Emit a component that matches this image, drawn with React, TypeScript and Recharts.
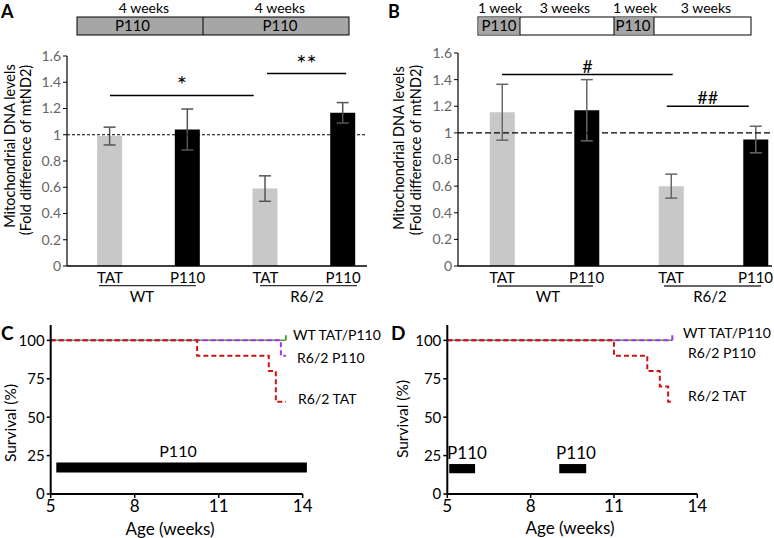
import React from 'react';
import { ComposedChart, Bar, Cell, ErrorBar, XAxis, YAxis, ReferenceLine, ReferenceArea, Line } from 'recharts';

const FONT = 'Lato, "Open Sans", sans-serif';

// ---- Panels A & B: mitochondrial DNA levels ----
const barCategories = ['TAT', 'P110', 'TAT', 'P110'];
const barGroups = ['WT', 'R6/2'];
const barColors = ['#c8c8c8', '#000000', '#c8c8c8', '#000000'];
const mtA = [0.99, 1.04, 0.59, 1.167];
const mtAErr = [0.068, 0.156, 0.097, 0.078];
const mtB = [1.155, 1.17, 0.6, 0.95];
const mtBErr = [0.21, 0.23, 0.09, 0.1];
const mtTicks = [0, 0.2, 0.4, 0.6, 0.8, 1, 1.2, 1.4, 1.6];
const sigA = [
  { from: 0, to: 1.85, y: 1.3, label: '*' },
  { from: 2.02, to: 3.04, y: 1.466, label: '**' },
];
const sigB = [
  { from: 0, to: 2.02, y: 1.438, label: '#' },
  { from: 1.95, to: 2.92, y: 1.2, label: '##' },
];

// ---- Panels C & D: survival ----
const weekTicks = [5, 8, 11, 14];
const survivalTicks = [0, 25, 50, 75, 100];

const cWtWeeks = [5, 13.4];
const cWtSurv = [100, 100];
const cR62P110Weeks = [5, 13.22, 13.4];
const cR62P110Surv = [100, 90, 90];
const cR62TatWeeks = [5, 10.23, 12.79, 13.04, 13.4];
const cR62TatSurv = [100, 90, 80, 60, 60];

const dWtWeeks = [5, 13.1];
const dWtSurv = [100, 100];
const dR62P110Weeks = [5, 13.1];
const dR62P110Surv = [100, 100];
const dR62TatWeeks = [5, 11.0, 12.2, 12.65, 12.95, 13.1];
const dR62TatSurv = [100, 90, 80, 70, 60, 60];

const cTreatment = [{ start: 5.2, end: 14.15 }];
const dTreatment = [{ start: 5.07, end: 6.0 }, { start: 9.03, end: 10.0 }];

const toPoints = (w: number[], s: number[]) => w.map((x, i) => ({ w: x, s: s[i] }));

type Sig = { from: number; to: number; y: number; label: string };

function MtPanel(props: {
  left: number; width: number; values: number[]; errs: number[];
  domainX: [number, number]; margin: any; dash: string; sig: Sig[]; errColor: string; sigSize: number;
}) {
  const { left, width, values, errs, domainX, margin, dash, sig, errColor, sigSize } = props;
  const data = values.map((v, i) => ({ pos: i, v, err: errs[i] }));
  return (
    <div style={{ position: 'absolute', left, top: 0 }}>
      <ComposedChart width={width} height={300} data={data} margin={margin}>
        <XAxis
          type="number" dataKey="pos" domain={domainX} ticks={[0, 1, 2, 3]} allowDataOverflow
          tickFormatter={(v: number) => barCategories[v]} interval={0}
          tickLine={false} tickSize={4} tickMargin={2} height={24}
          axisLine={{ stroke: '#000', strokeWidth: 1.5 }}
          tick={{ fill: '#000', fontSize: 15, fontFamily: FONT }}
        />
        <YAxis
          type="number" domain={[0, 1.6]} ticks={mtTicks} interval={0} width={40}
          tickSize={4} tickMargin={2}
          axisLine={{ stroke: '#000', strokeWidth: 1.2 }} tickLine={{ stroke: '#000' }}
          tick={{ fill: '#666', fontSize: 14, fontFamily: FONT }}
        />
        <Bar dataKey="v" barSize={25} isAnimationActive={false}>
          {data.map((d, i) => <Cell key={i} fill={barColors[i]} />)}
          <ErrorBar dataKey="err" width={6} stroke={errColor} strokeWidth={1.5} direction="y" />
        </Bar>
        <ReferenceLine y={1} stroke="#000" strokeWidth={1.2} strokeDasharray={dash} />
        {sig.map((s, i) => (
          <ReferenceLine
            key={i}
            segment={[{ x: s.from, y: s.y }, { x: s.to, y: s.y }]}
            stroke="#000" strokeWidth={1.5} ifOverflow="visible"
            label={{ value: s.label, position: 'top', fill: '#000', fontSize: sigSize, fontFamily: FONT, offset: 2 }}
          />
        ))}
      </ComposedChart>
    </div>
  );
}

type Series = { data: { w: number; s: number }[]; color: string; dash?: string; width: number; censor?: boolean };

function SurvPanel(props: {
  left: number; width: number; margin: any; series: Series[];
  treatment: { start: number; end: number }[]; barLow: number; barHigh: number;
}) {
  const { left, width, margin, series, treatment, barLow, barHigh } = props;
  return (
    <div style={{ position: 'absolute', left, top: 300 }}>
      <ComposedChart width={width} height={238} margin={margin}>
        <XAxis
          type="number" dataKey="w" domain={[5, 14]} ticks={weekTicks} allowDataOverflow interval={0}
          tickSize={4} tickMargin={2} height={30}
          axisLine={{ stroke: '#000', strokeWidth: 2 }} tickLine={{ stroke: '#000', strokeWidth: 1.5 }}
          tick={{ fill: '#000', fontSize: 17, fontFamily: FONT }}
        />
        <YAxis
          type="number" domain={[0, 110]} ticks={survivalTicks} allowDataOverflow interval={0} width={45}
          tickSize={4} tickMargin={2}
          axisLine={{ stroke: '#000', strokeWidth: 2 }} tickLine={{ stroke: '#000', strokeWidth: 1.5 }}
          tick={{ fill: '#000', fontSize: 15, fontFamily: FONT }}
        />
        {treatment.map((t, i) => (
          <ReferenceArea key={i} x1={t.start} x2={t.end} y1={barLow} y2={barHigh}
            fill="#000" fillOpacity={1} stroke="none" ifOverflow="visible" />
        ))}
        {series.map((s, si) => (
          <Line
            key={si} data={s.data} dataKey="s" type="stepAfter" stroke={s.color}
            strokeWidth={s.width} strokeDasharray={s.dash} isAnimationActive={false}
            dot={(p: any) => {
              if (s.censor && p.index === s.data.length - 1) {
                return <line key={p.index} x1={p.cx} x2={p.cx} y1={p.cy} y2={p.cy - 5} stroke={s.color} strokeWidth={2} />;
              }
              return <g key={p.index} />;
            }}
          />
        ))}
      </ComposedChart>
    </div>
  );
}

const GREEN = '#5f9a3c';
const PURPLE = '#a033ee';
const RED = '#cc1414';

export default function App() {
  const cSeries: Series[] = [
    { data: toPoints(cWtWeeks, cWtSurv), color: GREEN, width: 1.5, censor: true },
    { data: toPoints(cR62P110Weeks, cR62P110Surv), color: PURPLE, width: 2, dash: '5 3' },
    { data: toPoints(cR62TatWeeks, cR62TatSurv), color: RED, width: 2, dash: '5 3' },
  ];
  const dSeries: Series[] = [
    { data: toPoints(dWtWeeks, dWtSurv), color: GREEN, width: 1.5 },
    { data: toPoints(dR62P110Weeks, dR62P110Surv), color: PURPLE, width: 2, dash: '5 3', censor: true },
    { data: toPoints(dR62TatWeeks, dR62TatSurv), color: RED, width: 2, dash: '5 3' },
  ];
  const t = { fontFamily: FONT, fill: '#000' } as const;
  return (
    <div style={{ position: 'fixed', left: 0, top: 0, width: 774, height: 538, background: '#fff', overflow: 'hidden', fontFamily: FONT }}>
      <MtPanel left={0} width={390} values={mtA} errs={mtAErr} domainX={[-0.553, 3.308]}
        margin={{ top: 56, right: 23, bottom: 10, left: 27 }} dash="3 2" sig={sigA} errColor="#555" sigSize={24} />
      <MtPanel left={390} width={384} values={mtB} errs={mtBErr} domainX={[-0.521, 3.195]}
        margin={{ top: 53, right: 2, bottom: 10, left: 28 }} dash="6 3" sig={sigB} errColor="#666" sigSize={18} />
      <SurvPanel left={0} width={390} margin={{ top: 25, right: 87.3, bottom: 14, left: 5.7 }}
        series={cSeries} treatment={cTreatment} barLow={14} barHigh={20.5} />
      <SurvPanel left={390} width={384} margin={{ top: 25, right: 76.7, bottom: 14, left: 12.3 }}
        series={dSeries} treatment={dTreatment} barLow={13.5} barHigh={19.5} />

      <svg width={774} height={538} style={{ position: 'absolute', left: 0, top: 0, pointerEvents: 'none' }}>
        {/* panel letters */}
        <text x={1} y={18} fontSize={18} fontWeight="bold" {...t}>A</text>
        <text x={388} y={18} fontSize={18} fontWeight="bold" {...t}>B</text>
        <text x={1} y={340} fontSize={19} fontWeight="bold" {...t}>C</text>
        <text x={391} y={340} fontSize={19} fontWeight="bold" {...t}>D</text>

        {/* A treatment schedule */}
        <text x={144} y={13} fontSize={14} textAnchor="middle" {...t}>4 weeks</text>
        <text x={280} y={13} fontSize={14} textAnchor="middle" {...t}>4 weeks</text>
        <rect x={77} y={17} width={272} height={18} fill="#a6a6a6" stroke="#000" strokeWidth={1} />
        <line x1={203} x2={203} y1={17} y2={35} stroke="#000" strokeWidth={1} />
        <text x={132.5} y={31} fontSize={15} textAnchor="middle" {...t}>P110</text>
        <text x={280} y={31} fontSize={15} textAnchor="middle" {...t}>P110</text>

        {/* B treatment schedule */}
        <text x={500} y={13} fontSize={14} textAnchor="middle" {...t}>1 week</text>
        <text x={565} y={13} fontSize={14} textAnchor="middle" {...t}>3 weeks</text>
        <text x={635} y={13} fontSize={14} textAnchor="middle" {...t}>1 week</text>
        <text x={706} y={13} fontSize={14} textAnchor="middle" {...t}>3 weeks</text>
        <rect x={478} y={17} width={273} height={18} fill="#fff" stroke="#000" strokeWidth={1} />
        <rect x={478.5} y={17.5} width={41.5} height={17} fill="#a6a6a6" />
        <rect x={614} y={17.5} width={40} height={17} fill="#a6a6a6" />
        <line x1={520} x2={520} y1={17} y2={35} stroke="#000" strokeWidth={1} />
        <line x1={614} x2={614} y1={17} y2={35} stroke="#000" strokeWidth={1} />
        <line x1={654} x2={654} y1={17} y2={35} stroke="#000" strokeWidth={1} />
        <text x={499} y={31} fontSize={15} textAnchor="middle" {...t}>P110</text>
        <text x={633} y={31} fontSize={15} textAnchor="middle" {...t}>P110</text>

        {/* A / B y titles */}
        <text transform="translate(15,146) rotate(-90)" fontSize={14.5} textAnchor="middle" {...t}>Mitochondrial DNA levels</text>
        <text transform="translate(31,150) rotate(-90)" fontSize={14.5} textAnchor="middle" {...t}>(Fold difference of mtND2)</text>
        <text transform="translate(404,148) rotate(-90)" fontSize={14.5} textAnchor="middle" {...t}>Mitochondrial DNA levels</text>
        <text transform="translate(421,150) rotate(-90)" fontSize={14.5} textAnchor="middle" {...t}>(Fold difference of mtND2)</text>

        {/* group underlines and labels */}
        <line x1={99} x2={196} y1={285.7} y2={285.7} stroke="#333" strokeWidth={1.3} />
        <line x1={260} x2={357} y1={285.7} y2={285.7} stroke="#333" strokeWidth={1.3} />
        <text x={142} y={302} fontSize={15} textAnchor="middle" {...t}>{barGroups[0]}</text>
        <text x={307} y={302} fontSize={15} textAnchor="middle" {...t}>{barGroups[1]}</text>
        <line x1={497} x2={593} y1={286} y2={286} stroke="#333" strokeWidth={1.3} />
        <line x1={664} x2={761} y1={286} y2={286} stroke="#333" strokeWidth={1.3} />
        <text x={548} y={302} fontSize={15} textAnchor="middle" {...t}>{barGroups[0]}</text>
        <text x={710} y={302} fontSize={15} textAnchor="middle" {...t}>{barGroups[1]}</text>

        {/* C annotations */}
        <text x={293} y={340} fontSize={14} {...t}>WT TAT/P110</text>
        <text x={297} y={363} fontSize={14} {...t}>R6/2 P110</text>
        <text x={298} y={404} fontSize={14} {...t}>R6/2 TAT</text>
        <text x={178} y={457} fontSize={16} textAnchor="middle" {...t}>P110</text>
        <text transform="translate(16,423) rotate(-90)" fontSize={15.5} textAnchor="middle" {...t}>Survival (%)</text>
        <text x={170} y={535} fontSize={17} textAnchor="middle" {...t}>Age (weeks)</text>

        {/* D annotations */}
        <text x={683} y={338} fontSize={14} {...t}>WT TAT/P110</text>
        <text x={688} y={358} fontSize={14} {...t}>R6/2 P110</text>
        <text x={688} y={401} fontSize={14} {...t}>R6/2 TAT</text>
        <text x={467} y={459} fontSize={17} textAnchor="middle" {...t}>P110</text>
        <text x={576} y={459} fontSize={17} textAnchor="middle" {...t}>P110</text>
        <text transform="translate(408,419) rotate(-90)" fontSize={15.5} textAnchor="middle" {...t}>Survival (%)</text>
        <text x={570} y={534} fontSize={17} textAnchor="middle" {...t}>Age (weeks)</text>
      </svg>
    </div>
  );
}
